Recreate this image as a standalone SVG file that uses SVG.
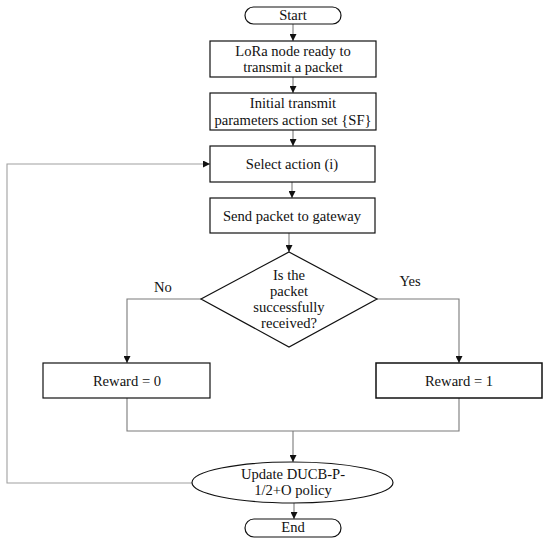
<svg xmlns="http://www.w3.org/2000/svg" width="550" height="542" viewBox="0 0 550 542">
<defs>
<marker id="ah" viewBox="0 0 10 10" refX="10" refY="5" markerWidth="7" markerHeight="7" markerUnits="userSpaceOnUse" orient="auto">
<path d="M0,0 L10,5 L0,10 z" fill="#111"/>
</marker>
<style>
.node{fill:#fff;stroke:#111;stroke-width:1.2}
.t{font-family:"Liberation Serif","Times New Roman",serif;font-size:14.6px;fill:#111;text-anchor:middle}
.c{fill:none;stroke:#7a7a7a;stroke-width:1.1}
.c2{fill:none;stroke:#a0a0a0;stroke-width:1.1}
</style>
</defs>
<rect width="550" height="542" fill="#fff"/>
<g id="connectors">
<line class="c" x1="293" y1="23" x2="293" y2="41" marker-end="url(#ah)"/>
<line class="c" x1="293" y1="77" x2="293" y2="93" marker-end="url(#ah)"/>
<line class="c" x1="293" y1="130" x2="293" y2="146" marker-end="url(#ah)"/>
<line class="c" x1="292" y1="182" x2="292" y2="198" marker-end="url(#ah)"/>
<line class="c" x1="289" y1="233" x2="289" y2="252" marker-end="url(#ah)"/>
<polyline class="c" points="201,299 127,299 127,363" marker-end="url(#ah)"/>
<polyline class="c" points="377,299 459,299 459,363" marker-end="url(#ah)"/>
<polyline class="c" points="127,398 127,431 459,431 459,398"/>
<line class="c" x1="293" y1="431" x2="293" y2="462" marker-end="url(#ah)"/>
<line class="c" x1="294" y1="503" x2="294" y2="519" marker-end="url(#ah)"/>
<polyline class="c2" points="192,483 7,483 7,164 210,164" marker-end="url(#ah)"/>
<text class="t" x="163" y="292">No</text>
<text class="t" x="410" y="286">Yes</text>
</g>
<g id="start">
<rect class="node" x="245" y="7" width="96" height="17" rx="8.5"/>
<text class="t" x="293" y="20">Start</text>
</g>
<g id="lora">
<rect class="node" x="210" y="41" width="166" height="36"/>
<text class="t" x="293" y="56">LoRa node ready to</text>
<text class="t" x="293" y="72">transmit a packet</text>
</g>
<g id="init">
<rect class="node" x="210" y="93" width="166" height="37"/>
<text class="t" x="293" y="108">Initial transmit</text>
<text class="t" x="293" y="125">parameters action set {SF}</text>
</g>
<g id="select">
<rect class="node" x="210" y="146" width="165" height="36"/>
<text class="t" x="292" y="169">Select action (i)</text>
</g>
<g id="send">
<rect class="node" x="210" y="198" width="165" height="35"/>
<text class="t" x="292" y="221">Send packet to gateway</text>
</g>
<g id="decision">
<polygon class="node" points="289,252 377,299 289,347 201,299"/>
<text class="t" x="289" y="280">Is the</text>
<text class="t" x="289" y="296">packet</text>
<text class="t" x="289" y="312">successfully</text>
<text class="t" x="289" y="328">received?</text>
</g>
<g id="reward0">
<rect class="node" x="43" y="363" width="167" height="35"/>
<text class="t" x="127" y="386">Reward = 0</text>
</g>
<g id="reward1">
<rect class="node" x="376" y="363" width="166" height="35" style="stroke-width:1.5"/>
<text class="t" x="459" y="386">Reward = 1</text>
</g>
<g id="update">
<ellipse class="node" cx="292.5" cy="482.5" rx="100.5" ry="20.5"/>
<text class="t" x="293" y="479">Update DUCB-P-</text>
<text class="t" x="293" y="495">1/2+O policy</text>
</g>
<g id="end">
<rect class="node" x="245" y="519" width="96" height="18" rx="9"/>
<text class="t" x="293" y="532">End</text>
</g>
</svg>
